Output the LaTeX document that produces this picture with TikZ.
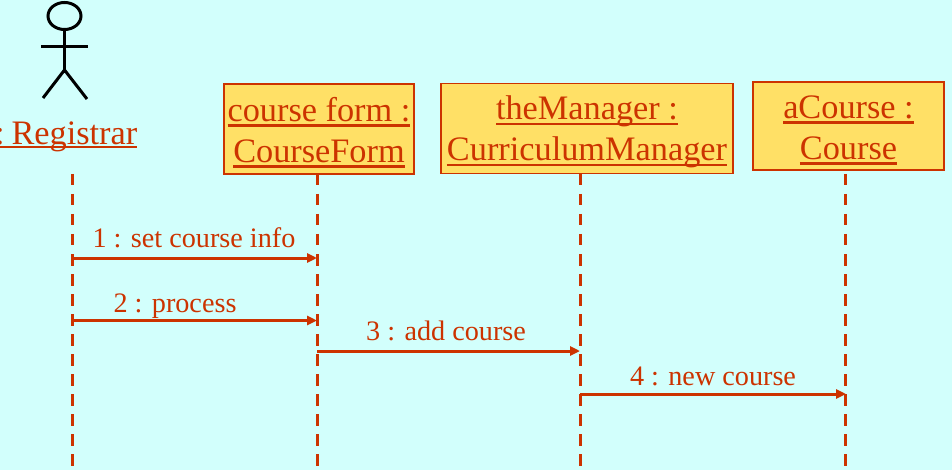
\documentclass[tikz,border=0pt]{standalone}
\usepackage{fontspec}
\setmainfont{Liberation Serif}
\usetikzlibrary{arrows.meta,shapes.geometric}
\definecolor{bgc}{HTML}{D2FFFC}
\definecolor{umlred}{HTML}{CC3300}
\definecolor{boxc}{HTML}{FFE066}
\newcommand\ult[2][-5.2pt]{\leavevmode\setbox0=\hbox{#2}\rlap{\copy0}\raisebox{#1}{\smash{\rule{\wd0}{2.4pt}}}}
\newcommand\toplift{\rule{0pt}{31pt}}
\tikzset{
 obj/.style={draw=umlred,fill=boxc,line width=1.4pt,inner sep=0pt,align=center,text=umlred,font=\fontsize{34.3}{41}\selectfont},
 life/.style={draw=umlred,line width=3pt,dash pattern=on 11.5pt off 8.5pt},
 msg/.style={draw=umlred,line width=3pt,-{Triangle[length=10pt,width=9pt]},shorten >=0pt},
 lab/.style={text=umlred,font=\fontsize{28.2}{30}\selectfont,inner sep=0pt,anchor=base},
 act/.style={draw=black,line width=3pt}
}
\begin{document}
\begin{tikzpicture}[x=1pt,y=-1pt]
\fill[bgc] (0,0) rectangle (952,470);
\useasboundingbox (0,0) rectangle (952,470);
% objects
\node[obj,minimum width=190pt,minimum height=90pt] (form) at (319,129) {\toplift\ult{course form :}\\\ult{CourseForm}};
\node[obj,minimum width=292pt,minimum height=90pt] (mgr) at (587,128.5) {\toplift\ult{theManager :}\\\ult{CurriculumManager}};
\node[obj,minimum width=191pt,minimum height=88pt] (crs) at (848.5,126) {\toplift\ult{aCourse :}\\\ult{Course}};
% actor
\node[draw=black,line width=3pt,ellipse,minimum width=33pt,minimum height=27pt,inner sep=0pt] (head) at (64.5,16) {};
\coordinate (hip) at (64.5,70);
\coordinate (armL) at (41,46.5);
\coordinate (armR) at (88,46.5);
\coordinate (legL) at (43,98);
\coordinate (legR) at (87,99);
\draw[act] (head.south) -- (hip);
\draw[act] (armL) -- (armR);
\draw[act] (legL) -- (hip) -- (legR);
\node[text=umlred,font=\fontsize{34.3}{41}\selectfont,inner sep=0pt,anchor=base east] (reg) at (137.5,144.5) {\ult[-3.8pt]{:\hspace{7pt}Registrar}};
% lifelines
\coordinate (a0) at (72,174);
\coordinate (a1) at (72,470);
\coordinate (b0) at (317,174);
\coordinate (b1) at (317,470);
\coordinate (c0) at (580,174);
\coordinate (c1) at (580,470);
\coordinate (d0) at (845,174);
\coordinate (d1) at (845,470);
\draw[life] (a0) -- (a1);
\draw[life] (b0) -- (b1);
\draw[life] (c0) -- (c1);
\draw[life] (d0) -- (d1);
% messages
\coordinate (m1s) at (72,258); \coordinate (m1e) at (317,258);
\coordinate (m2s) at (72,320.5); \coordinate (m2e) at (317,320.5);
\coordinate (m3s) at (317,351); \coordinate (m3e) at (580,351);
\coordinate (m4s) at (580,394); \coordinate (m4e) at (846,394);
\draw[msg] (m1s) -- (m1e);
\draw[msg] (m2s) -- (m2e);
\draw[msg] (m3s) -- (m3e);
\draw[msg] (m4s) -- (m4e);
\node[lab] (l1) at (194,247.5) {1 : set course info};
\node[lab] (l2) at (175,312.5) {2 : process};
\node[lab] (l3) at (446,340.5) {3 : add course};
\node[lab] (l4) at (713,385) {4 : new course};
\end{tikzpicture}
\end{document}
